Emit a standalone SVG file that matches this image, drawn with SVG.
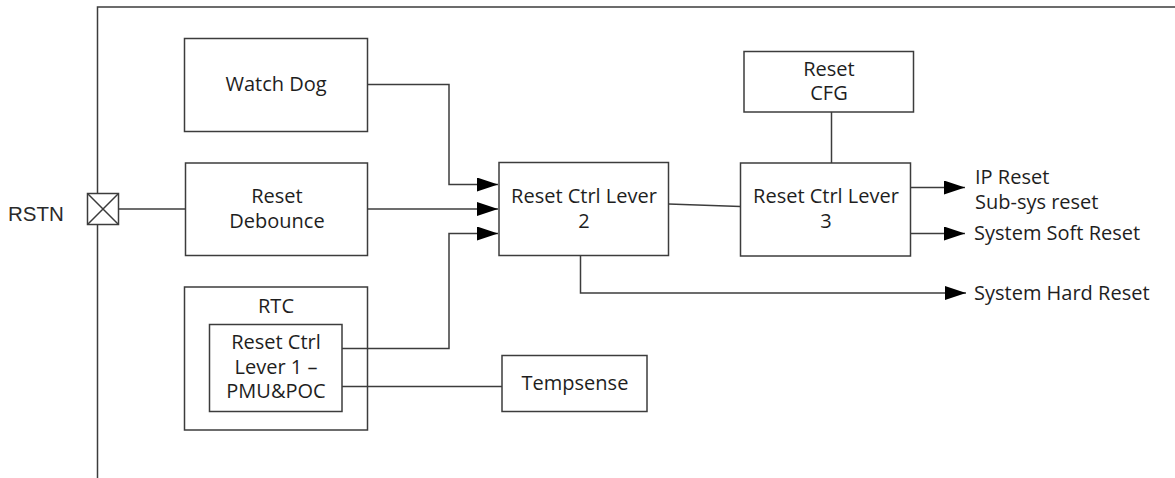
<svg xmlns="http://www.w3.org/2000/svg" width="1175" height="478" viewBox="0 0 1175 478">
<style>
.box{fill:#fff;stroke:#3c3c3c;stroke-width:1.5}
.ln{fill:none;stroke:#3c3c3c;stroke-width:1.5}
.t{font-family:"Open Sans","Noto Sans",sans-serif;font-size:20px;fill:#1e1e1e;text-anchor:middle}
.l{font-family:"Open Sans","Noto Sans",sans-serif;font-size:20px;fill:#1e1e1e}
.p{font-family:"Liberation Sans",Arial,sans-serif;font-size:20.5px;fill:#2a2a2a}
</style>
<defs>
<marker id="ah" markerWidth="21" markerHeight="14" refX="21" refY="7" orient="auto" markerUnits="userSpaceOnUse">
<path d="M0,0 L21,7 L0,14 z" fill="#000"/>
</marker>
</defs>
<g id="frame">
<path class="ln" d="M97.5,478 V7 H1175"/>
</g>
<g id="rstn">
<text class="p" x="8" y="220.5">RSTN</text>
<rect class="box" x="87.5" y="193.5" width="31" height="31"/>
<path class="ln" d="M87.5,193.5 L118.5,224.5 M118.5,193.5 L87.5,224.5" stroke-width="1"/>
</g>
<g id="watchdog">
<rect class="box" x="184.5" y="38.5" width="183" height="93"/>
<text class="t" x="276" y="91">Watch Dog</text>
</g>
<g id="debounce">
<rect class="box" x="185.5" y="163" width="182" height="92.5"/>
<text class="t" x="277" y="203">Reset<tspan x="277" dy="24.6">Debounce</tspan></text>
</g>
<g id="rtc">
<rect class="box" x="184.5" y="287" width="183" height="143"/>
<text class="t" x="276" y="313">RTC</text>
</g>
<g id="lever1">
<rect class="box" x="209.5" y="324.5" width="132.5" height="87"/>
<text class="t" x="276" y="349">Reset Ctrl<tspan x="276" dy="24.6">Lever 1 –</tspan><tspan x="276" dy="24.6">PMU&amp;POC</tspan></text>
</g>
<g id="tempsense">
<rect class="box" x="502" y="355.5" width="145" height="56"/>
<text class="t" x="575" y="389.5">Tempsense</text>
</g>
<g id="lever2">
<rect class="box" x="499" y="162.5" width="169.5" height="93"/>
<text class="t" x="584" y="203">Reset Ctrl Lever<tspan x="584" dy="24.6">2</tspan></text>
</g>
<g id="lever3">
<rect class="box" x="740.5" y="163" width="170" height="93"/>
<text class="t" x="826" y="203">Reset Ctrl Lever<tspan x="826" dy="24.6">3</tspan></text>
</g>
<g id="resetcfg">
<rect class="box" x="744" y="51.5" width="169.5" height="60.5"/>
<text class="t" x="829" y="75.5">Reset<tspan x="829" dy="24.6">CFG</tspan></text>
</g>
<g id="connectors">
<path class="ln" d="M118.5,209 H185.5"/>
<path class="ln" d="M367.5,84.5 H449 V184.5 H498" marker-end="url(#ah)"/>
<path class="ln" d="M367.5,209 H498" marker-end="url(#ah)"/>
<path class="ln" d="M342,348.5 H449 V233.5 H498" marker-end="url(#ah)"/>
<path class="ln" d="M342,386.5 H502"/>
<path class="ln" d="M668.5,204 L740.5,206.5"/>
<path class="ln" d="M831.5,112 V163"/>
<path class="ln" d="M910.5,187.5 H965" marker-end="url(#ah)"/>
<path class="ln" d="M910.5,233.5 H965" marker-end="url(#ah)"/>
<path class="ln" d="M580.5,255.5 V293 H966" marker-end="url(#ah)"/>
</g>
<g id="labels">
<text class="l" x="975" y="184">IP Reset<tspan x="975" dy="24.6">Sub-sys reset</tspan></text>
<text class="l" x="974" y="240">System Soft Reset</text>
<text class="l" x="974" y="299.5">System Hard Reset</text>
</g>
</svg>
